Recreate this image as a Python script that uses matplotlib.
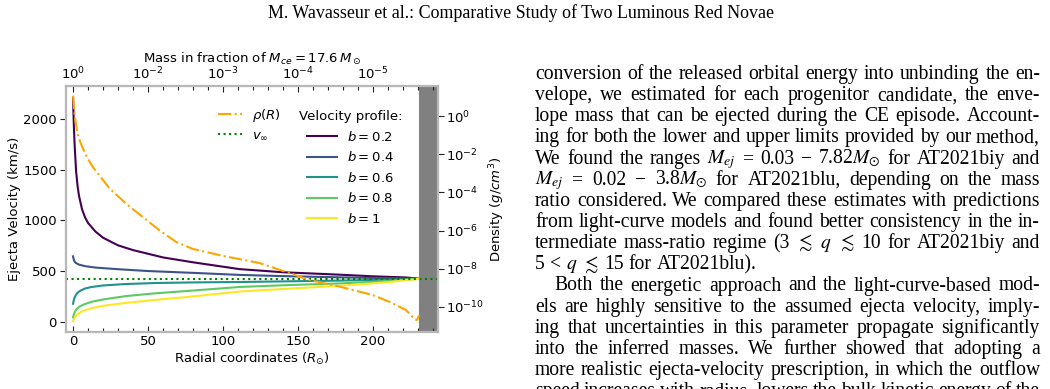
import numpy as np
import matplotlib
matplotlib.use("Agg")
import matplotlib.pyplot as plt
from matplotlib.ticker import FixedLocator, MultipleLocator, NullLocator
from matplotlib.transforms import IdentityTransform

# ---------------- data ----------------
b_values = [0.2, 0.4, 0.6, 0.8, 1]

r_b02 = [0, 0.5, 1, 2, 3, 4, 6, 8, 10, 15, 20, 30, 40, 60, 80, 111, 140, 178, 200, 222, 231]
v_b02 = [2205, 1950, 1760, 1490, 1340, 1240, 1110, 1030, 975, 890, 830, 755, 708, 636, 588, 521, 490, 466, 450, 439, 426]

r_b04 = [0, 0.5, 1, 2, 4, 8, 15, 30, 50, 80, 111, 140, 178, 210, 231]
v_b04 = [646, 615, 595, 580, 565, 550, 536, 520, 502, 484, 464, 452, 440, 432, 426]

r_b06 = [0, 0.5, 1, 2, 3, 5, 8, 12, 20, 35, 55, 80, 111, 140, 178, 210, 231]
v_b06 = [180, 215, 240, 268, 288, 310, 330, 344, 360, 374, 384, 390, 394, 400, 408, 417, 426]

r_b08 = [0, 0.5, 1, 2, 4, 7, 12, 20, 35, 55, 80, 111, 140, 178, 210, 231]
v_b08 = [45, 72, 95, 120, 150, 172, 198, 222, 255, 283, 310, 345, 362, 380, 403, 426]

r_b10 = [0, 0.5, 1, 2, 4, 7, 12, 20, 35, 55, 80, 111, 140, 178, 210, 231]
v_b10 = [8, 25, 40, 62, 88, 112, 135, 160, 188, 218, 252, 300, 325, 357, 392, 426]

v_inf = 426          # km/s
r_surface = 231      # R_sun, start of shaded region
r_max = 243.5

r_rho = [0, 0.4, 1, 1.6, 2.2, 3.3, 5, 7.8, 10, 13.3, 17, 20, 24.4, 30, 35.6, 46.7,
         57.8, 68.9, 80, 102, 124, 145, 158, 178, 200, 211, 222, 228, 229.5, 231]
rho = [12, 4.5, 1.4, 0.56, 0.28, 0.10, 0.040, 1.26e-2, 5.6e-3, 2.1e-3, 8.9e-4, 4.5e-4,
       1.6e-4, 6.3e-5, 2.5e-5, 5.0e-6, 1.0e-6, 2.5e-7, 1.07e-7, 4.3e-8, 2.0e-8, 5.6e-9,
       2.5e-9, 1.12e-9, 4.1e-10, 1.8e-10, 6.8e-11, 2.2e-11, 2.0e-11, 3.6e-11]

radial_ticks = [0, 50, 100, 150, 200]
mass_tick_labels = [r"$10^{0}$", r"$10^{-2}$", r"$10^{-3}$", r"$10^{-4}$", r"$10^{-5}$"]
velocity_ticks = [0, 500, 1000, 1500, 2000]
density_ticks = [1e0, 1e-2, 1e-4, 1e-6, 1e-8, 1e-10]

header = "M. Wavasseur et al.: Comparative Study of Two Luminous Red Novae"
body_lines = [
    ("conversion of the released orbital energy into unbinding the en-", 0, True),
    ("velope, we estimated for each progenitor candidate, the enve-", 0, True),
    ("lope mass that can be ejected during the CE episode. Account-", 0, True),
    ("ing for both the lower and upper limits provided by our method,", 0, True),
    ("We found the ranges $M_{ej}$ = 0.03 \u2212 7.82$M_{\\odot}$ for AT2021biy and", 0, True),
    ("$M_{ej}$ = 0.02 \u2212 3.8$M_{\\odot}$ for AT2021blu, depending on the mass", 0, True),
    ("ratio considered. We compared these estimates with predictions", 0, True),
    ("from light-curve models and found better consistency in the in-", 0, True),
    ("termediate mass-ratio regime (3 $\\lesssim$ $q$ $\\lesssim$ 10 for AT2021biy and", 0, True),
    ("5 < $q$ $\\lesssim$ 15 for AT2021blu).", 0, False),
    ("Both the energetic approach and the light-curve-based mod-", 1, True),
    ("els are highly sensitive to the assumed ejecta velocity, imply-", 0, True),
    ("ing that uncertainties in this parameter propagate significantly", 0, True),
    ("into the inferred masses. We further showed that adopting a", 0, True),
    ("more realistic ejecta-velocity prescription, in which the outflow", 0, True),
    ("speed increases with radius, lowers the bulk kinetic energy of the", 0, True),
]

# ---------------- figure ----------------
W, H = 1050, 389
fig = plt.figure(figsize=(W / 100, H / 100), dpi=100)

def px_axes(left, top, right, bottom):
    return [left / W, 1 - bottom / H, (right - left) / W, (bottom - top) / H]

FS = 9.5
spine_col = "#b8b8b8"
tick_col = "#222222"

ax = fig.add_axes(px_axes(66, 86, 438, 332))
ax2 = ax.twinx()
ax3 = ax.twiny()

colors = plt.cm.viridis(np.linspace(0, 1, len(b_values)))
series = [(r_b02, v_b02), (r_b04, v_b04), (r_b06, v_b06), (r_b08, v_b08), (r_b10, v_b10)]
vel_lines = []
for (r, v), b, c in zip(series, b_values, colors):
    ln, = ax.plot(r, v, color=c, lw=1.5, label=rf"$b = {b}$")
    vel_lines.append(ln)

ax.axvspan(r_surface, r_max + 5, color="gray", lw=0, zorder=1)
vinf_line = ax.axhline(v_inf, color="green", ls=":", lw=1.5, label=r"$v_{\infty}$", zorder=3)

rho_line, = ax2.plot(r_rho, rho, color="orange", ls="-.", lw=1.5, label=r"$\rho(R)$")
ax2.set_yscale("log")
ax2.set_ylim(10 ** -11.33, 10 ** 1.59)
ax2.yaxis.set_major_locator(FixedLocator(density_ticks))
ax2.yaxis.set_minor_locator(NullLocator())

ax.set_xlim(-4.7, r_max)
ax.set_ylim(-98, 2323)
ax.xaxis.set_major_locator(FixedLocator(radial_ticks))
ax.xaxis.set_minor_locator(MultipleLocator(10))
ax.yaxis.set_major_locator(FixedLocator(velocity_ticks))

ax3.set_xlim(ax.get_xlim())
ax3.xaxis.set_major_locator(FixedLocator(radial_ticks))
ax3.set_xticklabels(mass_tick_labels)
ax3.xaxis.set_minor_locator(MultipleLocator(10))

for a in (ax, ax2, ax3):
    for s in a.spines.values():
        s.set_color(spine_col)
        s.set_linewidth(1.5)

ax.tick_params(axis="y", which="major", direction="out", length=4.3, width=0.8,
               labelsize=FS, pad=2.2, color=tick_col)
ax.tick_params(axis="x", which="major", direction="in", length=4.3, width=0.8,
               labelsize=FS, pad=2.0, color=tick_col)
ax.tick_params(axis="x", which="minor", direction="in", length=2.6, width=0.8, color=tick_col)
ax2.tick_params(axis="y", which="major", direction="out", length=4.0, width=0.8,
                labelsize=FS, pad=1.5, color=tick_col)
ax3.tick_params(axis="x", which="major", direction="in", length=4.3, width=0.8,
                labelsize=FS, pad=2.5, color=tick_col)
ax3.tick_params(axis="x", which="minor", direction="in", length=2.6, width=0.8, color=tick_col)

ax.set_ylabel("Ejecta Velocity (km/s)", fontsize=FS)
ax.set_xlabel(r"Radial coordinates ($R_{\odot}$)", fontsize=FS, labelpad=2)
ax2.set_ylabel(r"Density ($g/cm^3$)", fontsize=FS, labelpad=3)
ax3.set_xlabel(r"Mass in fraction of $M_{ce} = 17.6\,M_\odot$", fontsize=FS, labelpad=2)
ax.yaxis.set_label_coords(-0.122, 0.5)

leg1 = ax3.legend([rho_line, vinf_line], [r"$\rho(R)$", r"$v_{\infty}$"], loc="upper left",
                  bbox_to_anchor=(0.4086, 0.915), frameon=False, fontsize=FS,
                  handlelength=1.8, handletextpad=0.8, labelspacing=0.35,
                  borderpad=0, borderaxespad=0)
ax3.add_artist(leg1)
leg2 = ax3.legend(vel_lines, [rf"$b = {b}$" for b in b_values], loc="upper left",
                  bbox_to_anchor=(0.626, 0.902), frameon=False, fontsize=FS,
                  title="Velocity profile:", title_fontsize=FS,
                  handlelength=2.3, handletextpad=0.75, labelspacing=0.5,
                  borderpad=0, borderaxespad=0)

# ---------------- page text ----------------
SERIF = "Liberation Serif"
fig.canvas.draw()
renderer = fig.canvas.get_renderer()

def mk(s, x, y, fs):
    return fig.text(x, y, s, fontsize=fs, family=SERIF, math_fontfamily="stix",
                    ha="left", va="baseline", transform=IdentityTransform())

def width(t):
    return t.get_window_extent(renderer).width

x_left, x_right = 535, 1040
col_w = x_right - x_left

# choose body font size so justified lines need inter-word gaps of ~0.32 em
REF = 10.0
needed = []
for line, ind, just in body_lines:
    if not just:
        continue
    words = line.split(" ")
    tmp = [mk(w, -900, -900, REF) for w in words]
    wsum = sum(width(t) for t in tmp)
    for t in tmp:
        t.remove()
    avail = col_w - ind * 19
    em_px = REF * 100 / 72
    k = avail / (wsum + (len(words) - 1) * 0.32 * em_px)
    needed.append(REF * k)
BFS = float(np.median(needed))
indent = BFS * 100 / 72

# header, sized to span about 506 px
ht = mk(header, 0, H - 18.5, 10)
hw = width(ht)
hfs = 10 * 506 / hw
ht.set_fontsize(hfs)
hw = width(ht)
ht.set_x(521 - hw / 2)

base0 = 79.0
step = 21.15
pa = mk("a a", -900, -900, BFS)
pb = mk("aa", -900, -900, BFS)
space_w = width(pa) - width(pb)

for i, (line, ind, just) in enumerate(body_lines):
    y = H - (base0 + i * step)
    words = line.split(" ")
    x0 = x_left + ind * indent
    texts = [mk(w, x0, y, BFS) for w in words]
    ws = [width(t) for t in texts]
    if just and len(words) > 1:
        gap = (x_right - x0 - sum(ws)) / (len(words) - 1)
    else:
        gap = space_w
    x = x0
    for t, w in zip(texts, ws):
        t.set_x(x)
        x += w + gap

fig.savefig("out.png", dpi=100)
